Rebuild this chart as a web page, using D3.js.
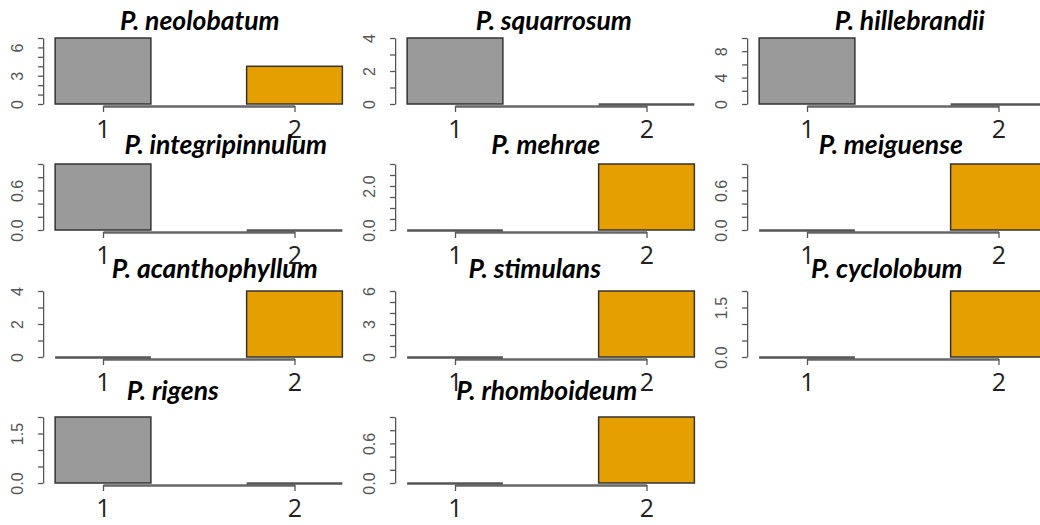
<!DOCTYPE html>
<html>
<head>
<meta charset="utf-8">
<script src="https://cdn.jsdelivr.net/npm/d3@7"></script>
<style>
  body { margin: 0; background: #fff; }
  svg { display: block; }
</style>
</head>
<body>
<svg id="chart" width="1040" height="525"></svg>
<script>
// one small panel per species, bar 1 = grey, bar 2 = orange
const species = ["P. neolobatum", "P. squarrosum", "P. hillebrandii",
  "P. integripinnulum", "P. mehrae", "P. meiguense",
  "P. acanthophyllum", "P. stimulans", "P. cyclolobum",
  "P. rigens", "P. rhomboideum"];
const groups = [1, 2];
const greyValues = [7, 4, 10, 1, 0, 0, 0, 0, 0, 2, 0];
const orangeValues = [4, 0, 0, 0, 3, 1, 4, 6, 2, 0, 1];
const yTickStep = [1, 1, 2, 0.2, 0.5, 0.2, 1, 1, 0.5, 0.5, 0.2];
const yTickLabels = [["0", "3", "6"], ["0", "2", "4"], ["0", "4", "8"],
  ["0.0", "0.6"], ["0.0", "2.0"], ["0.0", "0.6"],
  ["0", "2", "4"], ["0", "3", "6"], ["0.0", "1.5"],
  ["0.0", "1.5"], ["0.0", "0.6"]];

// layout
const colStep = 352;
const rowBase = [104, 230, 357, 483];
const titleY = [30, 154, 278, 400];
const titleDx = [1, 3, 7, 27, -5, -12, 16, -16, -16, -26, -4]; // the panels were pasted together, titles sit a bit off
const plotH = 66;
const colors = ["#9a9a9a", "#e69f00"];

const svg = d3.select("#chart");

species.forEach((name, i) => {
  const col = i % 3, row = Math.floor(i / 3);
  const ox = col * colStep;
  const base = rowBase[row];
  const vals = [greyValues[i], orangeValues[i]];
  const step = yTickStep[i];
  const yMax = d3.max(vals);
  const dec = step < 1 ? 1 : 0;

  const x = d3.scaleLinear().domain([1, 2]).range([ox + 103, ox + 294.5]);
  const y = d3.scaleLinear().domain([0, yMax]).range([base, base - plotH]);

  const g = svg.append("g");

  // x axis first so the bars sit on top of it
  const xAxis = d3.axisBottom(x)
    .tickValues(groups)
    .tickSize(6)
    .tickSizeOuter(0)
    .tickFormat(d3.format("d"));
  const xa = g.append("g")
    .attr("transform", "translate(0," + (base + 2) + ")")
    .call(xAxis);
  xa.select(".domain").attr("stroke", "#666").attr("stroke-width", 2.5);
  xa.selectAll(".tick line").attr("stroke", "#555").attr("stroke-width", 1.3);
  xa.selectAll(".tick text")
    .attr("y", 32).attr("dy", 0)
    .attr("fill", "#222")
    .style("font-family", "'Open Sans', 'Liberation Sans', sans-serif")
    .style("font-size", "25px");

  // bars (zero height bars come out as a flat line like in R)
  vals.forEach((v, k) => {
    const x0 = x(groups[k] - 0.25), x1 = x(groups[k] + 0.25);
    if (v > 0) {
      g.append("rect")
        .attr("x", x0).attr("y", y(v))
        .attr("width", x1 - x0).attr("height", y(0) - y(v))
        .attr("fill", colors[k])
        .attr("stroke", "#333").attr("stroke-width", 1.5);
    } else {
      g.append("line")
        .attr("x1", x0).attr("x2", x1)
        .attr("y1", y(0) + 0.5).attr("y2", y(0) + 0.5)
        .attr("stroke", "#555").attr("stroke-width", 2.5);
    }
  });

  // y axis
  const ticks = d3.range(0, yMax + step / 2, step);
  const yAxis = d3.axisLeft(y)
    .tickValues(ticks)
    .tickSize(5)
    .tickSizeOuter(0)
    .tickFormat(d => {
      const s = d.toFixed(dec);
      return yTickLabels[i].includes(s) ? s : "";
    });

  const ya = g.append("g")
    .attr("transform", "translate(" + (x(0.75) - 12) + ",0)")
    .call(yAxis);
  ya.select(".domain").attr("stroke", "#555").attr("stroke-width", 1.3);
  ya.selectAll(".tick line").attr("stroke", "#555").attr("stroke-width", 1.3);
  ya.selectAll(".tick text")
    .attr("transform", "rotate(-90)")
    .attr("x", 0).attr("y", -20).attr("dy", 0)
    .attr("text-anchor", "middle")
    .attr("fill", "#555")
    .style("font-family", "'Liberation Sans', Arial, sans-serif")
    .style("font-size", "16px");

  // title
  g.append("text")
    .attr("x", (x(0.75) + x(2.25)) / 2 + titleDx[i])
    .attr("y", titleY[row])
    .attr("text-anchor", "middle")
    .attr("fill", "#000")
    .style("font-family", "Lato, 'Open Sans', sans-serif")
    .style("font-weight", "bold")
    .style("font-style", "italic")
    .style("font-size", "26.5px")
    .text(name);
});
</script>
</body>
</html>
